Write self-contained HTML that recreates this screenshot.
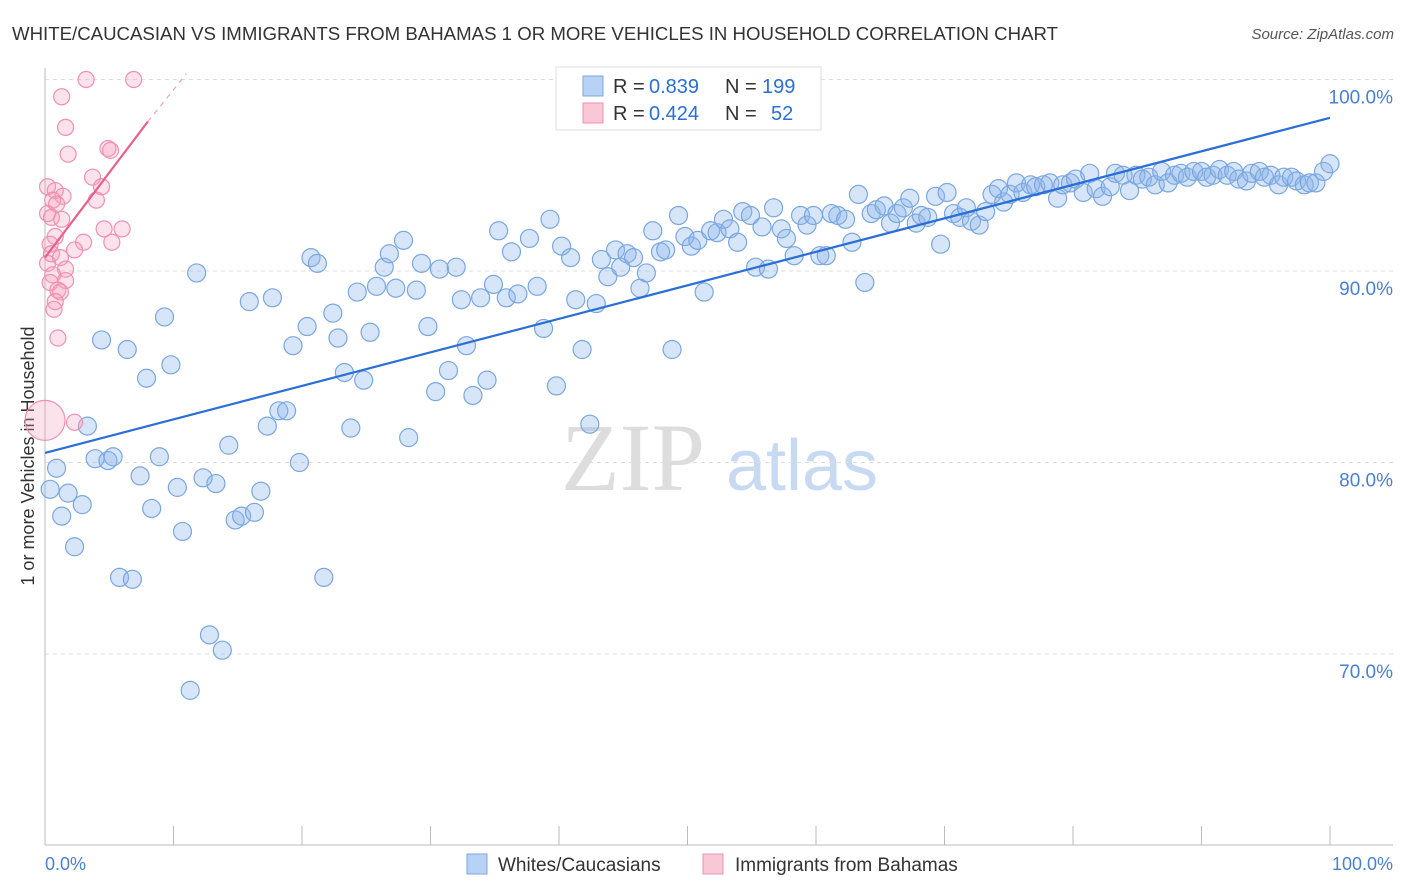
<!DOCTYPE html>
<html><head><meta charset="utf-8"><style>
body{margin:0;background:#fff;font-family:"Liberation Sans",sans-serif}
svg{display:block}
</style></head><body>
<svg id="c" width="1406" height="892" xmlns="http://www.w3.org/2000/svg">
<text x="12" y="40" font-size="18" fill="#333" textLength="1046" lengthAdjust="spacingAndGlyphs">WHITE/CAUCASIAN VS IMMIGRANTS FROM BAHAMAS 1 OR MORE VEHICLES IN HOUSEHOLD CORRELATION CHART</text>
<text x="1394" y="39" font-size="15" fill="#555" font-style="italic" text-anchor="end">Source: ZipAtlas.com</text>
<text transform="translate(34,456) rotate(-90)" font-size="18" fill="#333" text-anchor="middle">1 or more Vehicles in Household</text>
<g><text x="633" y="490" font-size="96" font-family="Liberation Serif" fill="#ddd" text-anchor="middle">ZIP</text><text x="802" y="490" font-size="72" fill="#c8daf2" text-anchor="middle">atlas</text></g>
<g id="grid"></g><g id="marks"></g>
<g>
<rect x="556" y="67" width="265" height="63" fill="#fff" stroke="#ddd"/>
<rect x="583" y="76" width="20" height="20" fill="#b8d2f5" stroke="#7aa7e0"/>
<text x="613" y="93" font-size="20" fill="#333">R =</text>
<text x="649" y="93" font-size="20" fill="#2a6fd6">0.839</text>
<text x="725" y="93" font-size="20" fill="#333">N =</text>
<text x="762" y="93" font-size="20" fill="#2a6fd6">199</text>
<rect x="583" y="103" width="20" height="20" fill="#f9c8d6" stroke="#f090b0"/>
<text x="613" y="120" font-size="20" fill="#333">R =</text>
<text x="649" y="120" font-size="20" fill="#2a6fd6">0.424</text>
<text x="725" y="120" font-size="20" fill="#333">N =</text>
<text x="771" y="120" font-size="20" fill="#2a6fd6">52</text>
</g>
<g>
<rect x="467" y="854" width="20" height="20" fill="#b8d2f5" stroke="#7aa7e0"/>
<text x="498" y="871" font-size="19" fill="#333">Whites/Caucasians</text>
<rect x="703" y="854" width="20" height="20" fill="#f9c8d6" stroke="#f090b0"/>
<text x="735" y="871" font-size="19" fill="#333">Immigrants from Bahamas</text>
</g>
</svg>
<script>
const yTicks=[100,90,80,70];
const yTickLabels=["100.0%","90.0%","80.0%","70.0%"];
const xTicks=[0,10,20,30,40,50,60,70,80,90,100];
const blueX=[0.4,0.9,1.3,1.8,2.3,2.9,3.3,3.9,4.4,4.9,5.3,5.8,6.4,6.8,7.4,7.9,8.3,8.9,9.3,9.8,10.3,10.7,11.3,11.8,12.3,12.8,13.3,13.8,14.3,14.8,15.3,15.9,16.3,16.8,17.3,17.7,18.2,18.8,19.3,19.8,20.4,20.7,21.2,21.7,22.4,22.8,23.3,23.8,24.3,24.8,25.3,25.8,26.4,26.8,27.3,27.9,28.3,28.9,29.3,29.8,30.4,30.7,31.4,32.0,32.4,32.8,33.3,33.9,34.4,34.9,35.3,35.9,36.3,36.8,37.7,38.3,38.8,39.3,39.8,40.2,40.9,41.3,41.8,42.4,42.9,43.3,43.8,44.4,44.8,45.3,45.8,46.3,46.8,47.3,47.9,48.3,48.8,49.3,49.8,50.3,50.8,51.3,51.8,52.3,52.8,53.3,53.9,54.3,54.9,55.3,55.8,56.3,56.7,57.3,57.7,58.3,58.8,59.3,59.8,60.3,60.8,61.2,61.7,62.3,62.8,63.3,63.8,64.3,64.7,65.3,65.8,66.3,66.8,67.3,67.8,68.2,68.7,69.3,69.7,70.2,70.7,71.2,71.7,72.1,72.7,73.2,73.7,74.2,74.6,75.1,75.6,76.1,76.7,77.1,77.7,78.2,78.8,79.2,79.8,80.2,80.8,81.3,81.8,82.3,82.9,83.3,83.9,84.4,84.9,85.4,85.9,86.4,86.9,87.4,87.9,88.4,88.9,89.4,90.0,90.4,90.9,91.4,92.0,92.5,92.9,93.5,93.9,94.5,94.9,95.4,96.0,96.4,97.0,97.4,98.0,98.4,98.9,99.5,100.0];
const blueY=[78.6,79.7,77.2,78.4,75.6,77.8,81.9,80.2,86.4,80.1,80.3,74.0,85.9,73.9,79.3,84.4,77.6,80.3,87.6,85.1,78.7,76.4,68.1,89.9,79.2,71.0,78.9,70.2,80.9,77.0,77.2,88.4,77.4,78.5,81.9,88.6,82.7,82.7,86.1,80.0,87.1,90.7,90.4,74.0,87.8,86.5,84.7,81.8,88.9,84.3,86.8,89.2,90.2,90.9,89.1,91.6,81.3,89.0,90.4,87.1,83.7,90.1,84.8,90.2,88.5,86.1,83.5,88.6,84.3,89.3,92.1,88.6,91.0,88.8,91.7,89.2,87.0,92.7,84.0,91.3,90.7,88.5,85.9,82.0,88.3,90.6,89.7,91.1,90.2,90.9,90.7,89.1,89.9,92.1,91.0,91.1,85.9,92.9,91.8,91.3,91.6,88.9,92.1,92.0,92.7,92.2,91.5,93.1,92.9,90.2,92.3,90.1,93.3,92.2,91.7,90.8,92.9,92.4,92.9,90.8,90.8,93.0,92.9,92.7,91.5,94.0,89.4,93.0,93.2,93.4,92.5,93.0,93.3,93.8,92.5,92.9,92.8,93.9,91.4,94.1,93.0,92.8,93.3,92.6,92.4,93.1,94.0,94.3,93.6,94.0,94.6,94.1,94.5,94.4,94.5,94.6,93.8,94.5,94.6,94.8,94.1,95.1,94.3,93.9,94.4,95.1,95.0,94.2,95.0,94.8,94.9,94.5,95.2,94.6,95.0,95.1,94.9,95.2,95.2,94.9,95.0,95.3,95.0,95.2,94.8,94.7,95.1,95.2,94.9,95.0,94.5,94.9,94.9,94.7,94.5,94.6,94.6,95.2,95.6];
const pinkX=[3.2,6.9,1.3,1.6,1.8,4.9,5.1,0.2,0.8,1.4,3.7,4.4,4.0,0.6,0.9,0.2,0.5,1.3,4.6,6.0,0.8,0.4,3.0,2.3,5.2,0.5,1.2,0.2,1.6,0.6,1.6,0.4,1.0,1.2,0.8,0.7,1.0,0.0,2.3];
const pinkY=[100.0,100.0,99.1,97.5,96.1,96.4,96.3,94.4,94.2,93.9,94.9,94.4,93.7,93.7,93.5,93.0,92.8,92.7,92.2,92.2,91.8,91.4,91.5,91.1,91.5,90.9,90.7,90.4,90.1,89.8,89.5,89.4,89.0,88.9,88.4,88.0,86.5,82.2,82.1];
const pinkR=[8,8,8,8,8,8,8,8,8,8,8,8,8,8,8,8,8,8,8,8,8,8,8,8,8,8,8,8,8,8,8,8,8,8,8,8,8,20,8];
const blueTrend=[80.5,98.0];
const pinkTrend=[[0,90.7],[8,97.8],[11,100.3]];
const NS="http://www.w3.org/2000/svg";
const sx=v=>45+v*12.85, sy=v=>79.5+(100-v)*19.15;
function mk(t,a,p){const e=document.createElementNS(NS,t);for(const k in a)e.setAttribute(k,a[k]);p.appendChild(e);return e;}
const G=document.getElementById('grid'),M=document.getElementById('marks');
yTicks.forEach((t,i)=>{const l=mk('line',{x1:45,x2:1393,y1:sy(t),y2:sy(t),stroke:'#ddd','stroke-dasharray':'4,4'},G);


const tx=mk('text',{x:1393,y:sy(t)+24,'font-size':19,fill:'#4a80d0','text-anchor':'end'},G);tx.textContent=yTickLabels[i];

});
const ax=mk('line',{x1:45,x2:45,y1:68,y2:845,stroke:'#bbb'},G);


const bx=mk('line',{x1:45,x2:1393,y1:845,y2:845,stroke:'#bbb'},G);


xTicks.forEach(t=>{const l=mk('line',{x1:sx(t),x2:sx(t),y1:826,y2:845,stroke:'#bbb'},G);

});
const x0=mk('text',{x:45,y:870,'font-size':18,fill:'#4a80d0'},G);x0.textContent='0.0%';


const x1=mk('text',{x:1393,y:870,'font-size':18,fill:'#4a80d0','text-anchor':'end'},G);x1.textContent='100.0%';


const cg=mk('g',{},M);
blueX.forEach((v,i)=>{const c=mk('circle',{cx:sx(v),cy:sy(blueY[i]),r:9,fill:'rgba(140,180,235,0.35)',stroke:'#7aa7e0','stroke-width':1.2},cg);

});
pinkX.forEach((v,i)=>{const c=mk('circle',{cx:sx(v),cy:sy(pinkY[i]),r:pinkR[i],fill:'rgba(245,160,190,0.3)',stroke:'#f090b0','stroke-width':1.2},cg);

});
const bl=mk('line',{x1:sx(0),y1:sy(blueTrend[0]),x2:sx(100),y2:sy(blueTrend[1]),stroke:'#2a6fd6','stroke-width':2.2},M);


const pl=mk('line',{x1:sx(pinkTrend[0][0]),y1:sy(pinkTrend[0][1]),x2:sx(pinkTrend[1][0]),y2:sy(pinkTrend[1][1]),stroke:'#e8608a','stroke-width':2.2},M);


const pd=mk('line',{x1:sx(pinkTrend[1][0]),y1:sy(pinkTrend[1][1]),x2:sx(pinkTrend[2][0]),y2:sy(pinkTrend[2][1]),stroke:'#f0a0b8','stroke-width':1.2,'stroke-dasharray':'5,5'},M);


</script>
</body></html>
